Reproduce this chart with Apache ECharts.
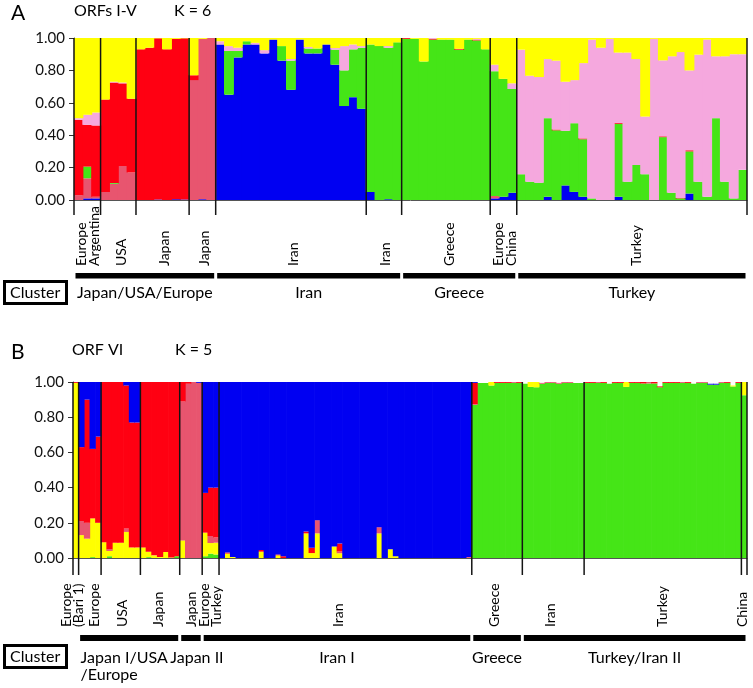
<!DOCTYPE html>
<html>
<head>
<meta charset="utf-8">
<script src="https://cdn.jsdelivr.net/npm/echarts@6/dist/echarts.min.js"></script>
<style>
html,body{margin:0;padding:0;background:#fff;}
#chart{width:753px;height:688px;}
</style>
</head>
<body>
<div id="chart"></div>
<script>
// ---------------- Panel A (ORFs I-V, K = 6) : one value per individual ----------------
const aBlue = [
  0,.01,.01,
  0,0,0,0,
  0,0,.003,0,.005,.003,
  0,.005,0,
  .96,.65,.88,.96,.96,.905,.99,.86,.68,.99,.905,.905,.96,.835,.58,.635,.563,
  .05,0,.005,0,
  0,0,0,0,0,0,0,0,0,0,
  .01,.02,.045,
  0,0,0,.02,0,.09,.05,.02,0,0,0,.02,0,0,0,0,0,0,0,.04,0,0,0,0,0,0
];
const aRose = [
  .03,.124,.01,
  .05,.10,.21,.17,
  0,0,0,0,0,0,
  .74,.99,1,
  0,0,0,0,0,0,0,0,0,0,0,0,0,0,0,0,0,
  0,0,0,0,
  0,0,0,0,0,0,0,0,0,0,
  .015,0,0,
  0,0,0,0,0,0,0,0,0,0,0,0,0,0,0,0,0,0,0,0,0,0,0,0,0,0
];
const aGreen = [
  0,.072,0,
  0,.005,0,0,
  0,0,0,0,0,0,
  0,0,0,
  0,.27,.04,.02,0,0,0,.09,.18,0,.03,.03,0,.093,.22,.295,.377,
  .91,.95,.935,.973,
  .995,.995,.855,.99,.99,.99,.928,.99,.985,.93,
  .77,.728,.64,
  .159,.113,.107,.485,.43,.337,.424,.355,.01,0,0,.45,.113,.216,.159,0,.388,.045,.01,.26,.113,.02,.505,.113,.01,.186
];
const aRed = [
  .465,.258,.44,
  .57,.62,.51,.455,
  .93,.94,.995,.93,.99,.995,
  .03,0,0,
  0,0,0,0,0,0,0,0,0,0,0,0,0,0,0,0,0,
  0,0,0,0,
  .005,0,0,.005,0,0,.005,0,.005,0,
  0,0,0,
  0,0,0,0,.005,0,0,.005,0,0,0,.005,0,0,0,0,.005,0,.003,.007,0,0,0,0,0,0
];
const aPink = [
  .01,.062,.08,
  0,.005,.005,0,
  0,0,0,0,0,0,
  0,0,0,
  .02,.03,.02,0,.01,.02,0,0,.01,0,.01,0,0,.01,.15,.03,.01,
  0,0,.01,0,
  0,0,0,.005,0,0,0,0,.005,0,
  .04,0,.035,
  .769,.654,.652,.365,.425,.303,.266,.465,.98,.94,.995,.435,.797,.654,.356,.995,.469,.842,.9,.493,.784,.97,.382,.774,.89,.714
];
const aYellow = [
  .495,.474,.46,
  .38,.27,.275,.375,
  .07,.06,.002,.07,.005,.002,
  .23,.005,0,
  .02,.05,.06,.02,.03,.075,.01,.05,.13,.01,.055,.065,.04,.062,.05,.04,.05,
  .04,.05,.05,.027,
  0,.005,.145,0,.01,.01,.067,.01,.005,.07,
  .165,.252,.28,
  .072,.233,.241,.13,.14,.27,.26,.155,.01,.06,.005,.09,.09,.13,.485,.005,.138,.113,.087,.20,.103,.01,.113,.113,.10,.10
];
const aGroupStarts = [0,3,7,13,16,33,37,47,50,76];
const aGroupNames = ['Europe\nArgentina','USA','Japan','Japan','Iran','Iran','Greece','Europe\nChina','Turkey'];
const aClusterStart = [0,16,37,50];
const aClusterEnd = [16,37,50,76];
const aClusterNames = ['Japan/USA/Europe','Iran','Greece','Turkey'];

// ---------------- Panel B (ORF VI, K = 5) ----------------
const bGreen = [
  0,0,0,.005,0,
  0,.01,0,0,0,0,0,
  0,.005,0,0,0,0,.01,
  0,0,0,0,
  .01,.025,.02,
  0,0,0,0,0,0,0,0,0,0,0,0,0,0,0,0,0,0,0,0,0,0,0,0,0,0,0,0,0,0,0,0,0,0,0,0,0,0,0,0,0,0,0,0,0,
  .87,.995,.995,.98,.995,.995,.995,.995,.995,
  .99,.972,.97,.99,.995,.995,.99,.995,.995,.995,.995,
  .995,.995,.995,.995,.99,.995,.995,.972,.995,.995,.992,.992,.992,.97,.995,.995,.995,.995,.995,.99,.995,.995,.985,.985,.995,.995,.975,.995,
  .925
];
const bYellow = [
  .995,.13,.11,.22,.20,
  .09,.03,.087,.087,.148,.06,.06,
  .06,.03,.015,.005,.034,.003,0,
  .10,0,0,0,
  .134,.06,.067,
  0,.025,.005,0,0,0,0,.036,0,0,.015,0,0,0,0,.14,.028,.14,0,0,.065,.027,0,0,0,0,0,0,.14,0,.05,.01,0,0,0,0,0,0,0,0,0,0,0,0,0,
  0,0,0,.02,0,0,0,0,0,
  0,.028,.03,0,0,0,0,0,0,0,0,
  0,0,0,0,0,0,0,.028,0,0,0,0,0,0,0,0,0,0,0,0,0,0,0,0,0,0,.005,0,
  .075
];
const bRose = [
  0,.08,.09,0,0,
  0,.01,0,0,.02,0,0,
  0,0,0,0,0,0,0,
  .79,.99,1,.995,
  0,.04,.03,
  0,0,0,0,0,0,0,0,0,0,0,0,0,0,0,0,0,.075,0,0,0,.01,0,0,0,0,0,0,.035,0,0,0,0,0,0,0,0,0,0,0,0,0,0,
  0,.005,.005,0,0,0,0,0,0,
  .01,0,0,.01,.005,.005,.01,.005,.005,.005,.005,
  0,0,0,0,.01,0,0,0,0,0,0,0,0,.025,0,0,0,0,0,.01,0,0,.01,.01,0,0,.02,0,
  0
];
const bRed = [
  .005,.42,.70,.395,.49,
  .91,.95,.913,.913,.812,.71,.71,
  .94,.965,.985,.995,.966,.997,.99,
  .11,.01,0,0,
  .226,.275,.283,
  0,.006,0,0,0,0,0,.01,0,0,.005,.01,0,0,0,.01,.03,0,0,0,0,.045,0,0,0,0,0,0,0,0,0,0,0,0,0,0,0,0,0,0,0,0,0,0,0,
  .12,0,0,0,.005,.005,.005,.005,.005,
  0,0,0,0,0,0,0,0,0,0,0,
  .005,.005,.005,.005,0,.005,.005,0,.005,.005,.008,.008,.008,.005,.005,.005,.005,.005,.005,0,.005,.005,0,0,.005,.005,0,.005,
  0
];
const bBlue = [
  0,.37,.10,.38,.31,
  0,0,0,0,.02,.23,.23,
  0,0,0,0,0,0,0,
  0,0,0,.005,
  .63,.60,.60,
  1,.969,.995,1,1,1,1,.954,1,1,.98,.99,1,1,1,.85,.942,.785,1,1,.935,.918,1,1,1,1,1,1,.825,1,.95,.99,1,1,1,1,1,1,1,1,1,1,1,1,1,
  .01,0,0,0,0,0,0,0,0,
  0,0,0,0,0,0,0,0,0,0,0,
  0,0,0,0,0,0,0,0,0,0,0,0,0,0,0,0,0,0,0,0,0,0,.005,.005,0,0,0,0,
  0
];
const bGroupStarts = [0,1,5,12,19,23,26,71,80,91,119,120];
const bGroupNames = ['Europe\n(Bari 1)','Europe','USA','Japan','Japan','Europe\nTurkey','Iran','Greece','Iran','Turkey','China'];
const bClusterStart = [1,19,23,71,80];
const bClusterEnd = [19,23,71,80,120];
const bClusterNames = ['Japan I/USA\n/Europe','Japan II','Iran I','Greece','Turkey/Iran II'];

const yTicks = [0, 0.2, 0.4, 0.6, 0.8, 1.0];

// ---------------- styles (pixel nudges for label placement) ----------------
const aLabelNudge = [1, 3, 2, 2, 3, 2, 4, 2, 5];
const bLabelNudge = [-3, 5, 2, -2, 1, 0, -7, -3, -3, 0, -2];
const aClusterNudge = [0, 0, 0, 0];
const bClusterNudge = [0, 6, 0, 0, 0];

const COL = {
  yellow:'#FFFF00', red:'#FF0012', blue:'#0000F2', green:'#45E517', rose:'#E8556F', pink:'#F5A8DE'
};
const FONT = 'Lato, "Open Sans", sans-serif';
const N_A = aBlue.length, N_B = bBlue.length;

function cats(n){ const r=[]; for(let i=0;i<n;i++) r.push(String(i+1)); return r; }

function barSeries(name, data, color, xi, yi){
  return {
    name, type:'bar', stack: 'p'+xi, data, xAxisIndex: xi, yAxisIndex: yi,
    barWidth:'112%',
    itemStyle:{color},
    emphasis:{disabled:true}, silent:true, z:2
  };
}

function boundarySeries(starts, xi, yi, below){
  return {
    type:'custom', xAxisIndex:xi, yAxisIndex:yi, clip:false, silent:true, z:10,
    data: starts.map(s => [s, 0]),
    renderItem: function(params, api){
      const top = api.coord([api.value(0), 1]);
      const bot = api.coord([api.value(0), 0]);
      return {type:'line', shape:{x1:top[0], y1:top[1], x2:bot[0], y2:bot[1]+below},
              style:{stroke:'#141414', lineWidth:1.5}};
    }
  };
}

function groupLabelSeries(starts, names, nudge, xi, yi, off, lh){
  const data = [];
  for(let i=0;i<names.length;i++) data.push([(starts[i]+starts[i+1])/2, 0]);
  return {
    type:'custom', xAxisIndex:xi, yAxisIndex:yi, clip:false, silent:true, z:10,
    data,
    renderItem: function(params, api){
      const p = api.coord([api.value(0), 0]);
      return {type:'text', x:p[0]+nudge[params.dataIndex], y:p[1]+off, rotation:Math.PI/2,
        style:{text:names[params.dataIndex], x:0, y:0, align:'left', verticalAlign:'middle',
               fontSize:14, fontFamily:FONT, fill:'#000', lineHeight:lh}};
    }
  };
}

function clusterSeries(st, en, names, aligns, nudge, xi, yi, barOff, barH, labOff){
  return {
    type:'custom', xAxisIndex:xi, yAxisIndex:yi, clip:false, silent:true, z:10,
    data: st.map((s,i)=>[s, en[i]]),
    renderItem: function(params, api){
      const a = api.coord([api.value(0), 0]);
      const b = api.coord([api.value(1), 0]);
      const al = aligns[params.dataIndex];
      const tx = (al === 'left' ? a[0]+2 : (a[0]+b[0])/2) + nudge[params.dataIndex];
      return {type:'group', children:[
        {type:'rect', shape:{x:a[0]+1.5, y:a[1]+barOff, width:b[0]-a[0]-3, height:barH}, style:{fill:'#000'}},
        {type:'text', x:tx, y:a[1]+labOff,
         style:{text:names[params.dataIndex], x:0, y:0, align:al, verticalAlign:'top',
                fontSize:16, fontFamily:FONT, fill:'#000', lineHeight:17}}
      ]};
    }
  };
}

function yAxisCfg(gi){
  return {
    type:'value', gridIndex:gi, min:0, max:1, interval:0.2,
    axisLine:{show:true, lineStyle:{color:'#333', width:1.2}},
    axisTick:{show:true, length:5, lineStyle:{color:'#333'}},
    splitLine:{show:false},
    axisLabel:{formatter:v=>v.toFixed(2), fontSize:15, fontFamily:FONT, color:'#111', margin:9,
               customValues: yTicks}
  };
}

function catAxis(gi, n){
  return {type:'category', gridIndex:gi, data:cats(n), boundaryGap:true,
    axisLine:{show:true, lineStyle:{color:'#555', width:1}},
    axisTick:{show:false}, axisLabel:{show:false}, splitLine:{show:false}, z:5};
}
function valAxis(gi, n){
  return {type:'value', gridIndex:gi, min:0, max:n, show:false};
}

const titleStyle = (fs)=>({fontSize:fs, fontWeight:'normal', fontFamily:FONT, color:'#000'});

const option = {
  animation:false,
  backgroundColor:'#fff',
  title:[
    {text:'A', left:11, top:3, padding:0, textStyle:titleStyle(21)},
    {text:'ORFs I-V', left:74, top:3, padding:0, textStyle:titleStyle(16)},
    {text:'K = 6', left:174, top:3, padding:0, textStyle:titleStyle(16)},
    {text:'B', left:11, top:342, padding:0, textStyle:titleStyle(21)},
    {text:'ORF VI', left:72, top:342, padding:0, textStyle:titleStyle(16)},
    {text:'K = 5', left:175, top:342, padding:0, textStyle:titleStyle(16)},
    {text:'Cluster', left:4, top:281, padding:[4,6,3,6], borderWidth:3, borderColor:'#000', textStyle:titleStyle(16)},
    {text:'Cluster', left:4, top:645, padding:[4,6,3,6], borderWidth:3, borderColor:'#000', textStyle:titleStyle(16)}
  ],
  grid:[
    {left:74, top:38, width:673, height:162},
    {left:73, top:382, width:674, height:176}
  ],
  xAxis:[ catAxis(0, N_A), valAxis(0, N_A), catAxis(1, N_B), valAxis(1, N_B) ],
  yAxis:[ yAxisCfg(0), yAxisCfg(1) ],
  series:[
    barSeries('A1', aBlue, COL.blue, 0, 0),
    barSeries('A2', aRose, COL.rose, 0, 0),
    barSeries('A3', aGreen, COL.green, 0, 0),
    barSeries('A4', aRed, COL.red, 0, 0),
    barSeries('A5', aPink, COL.pink, 0, 0),
    barSeries('A6', aYellow, COL.yellow, 0, 0),
    boundarySeries(aGroupStarts, 1, 0, 15),
    groupLabelSeries(aGroupStarts, aGroupNames, aLabelNudge, 1, 0, 66, 13),
    clusterSeries(aClusterStart, aClusterEnd, aClusterNames, ['center','center','center','center'], aClusterNudge, 1, 0, 73, 5.5, 84.5),

    barSeries('B1', bGreen, COL.green, 2, 1),
    barSeries('B2', bYellow, COL.yellow, 2, 1),
    barSeries('B3', bRose, COL.rose, 2, 1),
    barSeries('B4', bRed, COL.red, 2, 1),
    barSeries('B5', bBlue, COL.blue, 2, 1),
    boundarySeries(bGroupStarts, 3, 1, 17),
    groupLabelSeries(bGroupStarts, bGroupNames, bLabelNudge, 3, 1, 69, 12),
    clusterSeries(bClusterStart, bClusterEnd, bClusterNames, ['left','center','center','center','center'], bClusterNudge, 3, 1, 77, 6, 91.5)
  ]
};

const chart = echarts.init(document.getElementById('chart'), null, {renderer:'canvas'});
chart.setOption(option);
</script>
</body>
</html>
